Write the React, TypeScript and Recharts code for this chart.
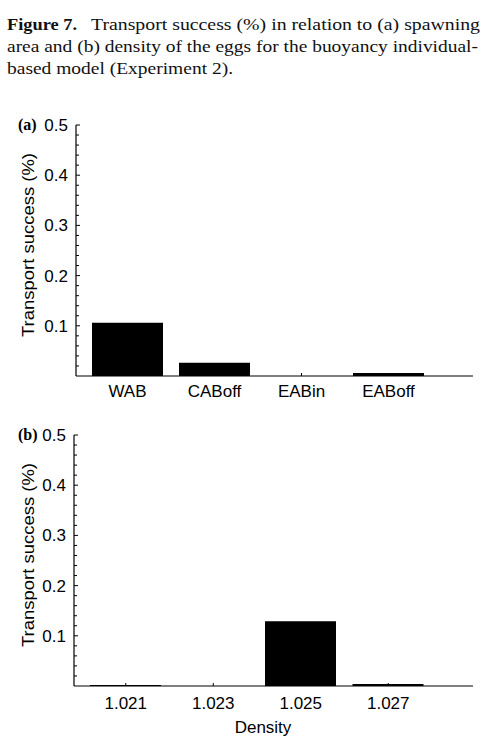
import React from 'react';
import { BarChart, Bar, XAxis, YAxis } from 'recharts';

const areaCategories = ['WAB', 'CABoff', 'EABin', 'EABoff'];
const areaSuccess = [0.106, 0.0265, 0, 0.006];

const densityCategories = ['1.021', '1.023', '1.025', '1.027'];
const densitySuccess = [0.002, 0, 0.129, 0.004];

const yTicks = [0.02, 0.04, 0.06, 0.08, 0.1, 0.12, 0.14, 0.16, 0.18, 0.2, 0.22, 0.24, 0.26, 0.28, 0.3, 0.32, 0.34, 0.36, 0.38, 0.4, 0.42, 0.44, 0.46, 0.48, 0.5];
const yLabelled = [0.1, 0.2, 0.3, 0.4, 0.5];

const captionLine1Bold = 'Figure 7.';
const captionLine1 = 'Transport success (%) in relation to (a) spawning';
const captionLine2 = 'area and (b) density of the eggs for the buoyancy individual-';
const captionLine3 = 'based model (Experiment 2).';

const SANS = '"Liberation Sans", Arial, Helvetica, sans-serif';
const SERIF = '"Liberation Serif", "Times New Roman", Times, serif';

const areaData = areaCategories.map((c, i) => ({ cat: c, value: areaSuccess[i] }));
const densityData = densityCategories.map((c, i) => ({ cat: c, value: densitySuccess[i] }));

const YTick = (props: any) => {
  const { x, y, payload } = props;
  const v = payload.value;
  const major = yLabelled.some((m) => Math.abs(m - v) < 1e-6);
  return (
    <g>
      <line x1={x} x2={x + (major ? 4 : 3)} y1={y} y2={y} stroke="#000" strokeWidth={1} />
      {major && (
        <text x={x - 8} y={y} dy={6} textAnchor="end" fontFamily={SANS} fontSize={17} fill="#000">
          {v.toFixed(1)}
        </text>
      )}
    </g>
  );
};

const makeXTick = (labelDy: number) => (props: any) => {
  const { x, y, payload } = props;
  return (
    <g>
      <line x1={x} x2={x} y1={y} y2={y - 3} stroke="#000" strokeWidth={1} />
      <text x={x} y={y + labelDy} textAnchor="middle" fontFamily={SANS} fontSize={17} fill="#000">
        {payload.value}
      </text>
    </g>
  );
};

type PanelProps = {
  data: { cat: string; value: number }[];
  top: number;
  axisX: number;
  labelDy: number;
};

const Panel = ({ data, top, axisX, labelDy }: PanelProps) => {
  // plot area: from y = top + 15 (0.5) to top + 266 (0)
  return (
    <div style={{ position: 'absolute', left: 0, top }}>
      <BarChart
        width={502}
        height={300}
        data={data}
        margin={{ top: 15, right: 29, bottom: 0, left: 0 }}
        barSize={71}
      >
        <YAxis
          width={axisX}
          domain={[0, 0.5]}
          ticks={yTicks}
          interval={0}
          tickSize={0}
          tickMargin={0}
          tick={<YTick />}
          axisLine={{ stroke: '#000', strokeWidth: 1.2 }}
          tickLine={false}
          allowDataOverflow
        />
        <XAxis
          dataKey="cat"
          height={34}
          padding={{ left: 8, right: 41 }}
          tickSize={0}
          tickMargin={0}
          interval={0}
          tick={makeXTick(labelDy)}
          axisLine={{ stroke: '#000', strokeWidth: 1.2 }}
          tickLine={false}
        />
        <Bar dataKey="value" fill="#000" isAnimationActive={false} />
      </BarChart>
    </div>
  );
};

export default function App() {
  return (
    <div style={{ position: 'absolute', left: 0, top: 0, width: 502, height: 752, background: '#fff' }}>
      <svg width={502} height={752} style={{ position: 'absolute', left: 0, top: 0 }}>
        <text x={7} y={30} fontFamily={SERIF} fontSize={17} fontWeight="bold" fill="#111" textLength={70} lengthAdjust="spacingAndGlyphs">
          {captionLine1Bold}
        </text>
        <text x={91} y={30} fontFamily={SERIF} fontSize={17} fill="#111" textLength={389} lengthAdjust="spacingAndGlyphs">
          {captionLine1}
        </text>
        <text x={7} y={52} fontFamily={SERIF} fontSize={17} fill="#111" textLength={471} lengthAdjust="spacingAndGlyphs">
          {captionLine2}
        </text>
        <text x={7} y={74} fontFamily={SERIF} fontSize={17} fill="#111" textLength={226} lengthAdjust="spacingAndGlyphs">
          {captionLine3}
        </text>
      </svg>
      <Panel data={areaData} top={110} axisX={76} labelDy={21} />
      <Panel data={densityData} top={420} axisX={74} labelDy={23} />
      <svg width={502} height={752} style={{ position: 'absolute', left: 0, top: 0, pointerEvents: 'none' }}>
        <text x={18} y={130} fontFamily={SERIF} fontSize={16} fontWeight="bold" fill="#000">(a)</text>
        <text x={18} y={440} fontFamily={SERIF} fontSize={16} fontWeight="bold" fill="#000">(b)</text>
        <text x={34} y={245} transform="rotate(-90 34 245)" textAnchor="middle" fontFamily={SANS} fontSize={17} fill="#000" textLength={184} lengthAdjust="spacingAndGlyphs">
          Transport success (%)
        </text>
        <text x={34} y={555} transform="rotate(-90 34 555)" textAnchor="middle" fontFamily={SANS} fontSize={17} fill="#000" textLength={184} lengthAdjust="spacingAndGlyphs">
          Transport success (%)
        </text>
        <text x={263} y={733} textAnchor="middle" fontFamily={SANS} fontSize={17} fill="#000">Density</text>
      </svg>
    </div>
  );
}
